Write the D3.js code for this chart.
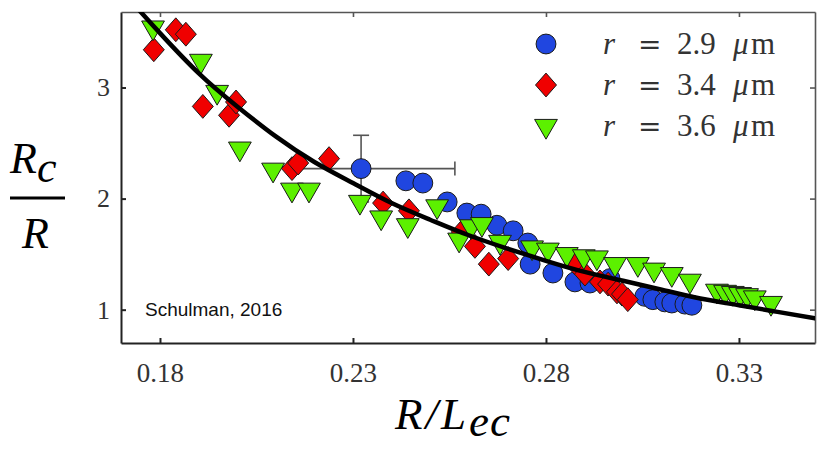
<!DOCTYPE html>
<html>
<head>
<meta charset="utf-8">
<script src="https://cdn.jsdelivr.net/npm/d3@7"></script>
<style>
  body { margin: 0; background: #fff; }
  svg { display: block; }
</style>
</head>
<body>
<div id="main"></div>
<script>
const layout = {
    width: 817,
    height: 450,
    left: 121,
    right: 815,
    top: 12,
    bottom: 343
};

// tick values
const xTicks = [0.18, 0.23, 0.28, 0.33];
const yTicks = [1, 2, 3];

// r = 2.9 um (blue circles)
const blueX = [0.2321, 0.2437, 0.2481, 0.2544, 0.2595, 0.2632, 0.2673, 0.2715, 0.2753, 0.2759,
               0.2818, 0.2875, 0.2914, 0.2966, 0.3056, 0.3077, 0.3108, 0.3126, 0.3160, 0.3178];
const blueY = [2.27, 2.16, 2.14, 1.97, 1.87, 1.86, 1.76, 1.71, 1.60, 1.41,
               1.33, 1.25, 1.24, 1.28, 1.12, 1.09, 1.07, 1.06, 1.05, 1.04];

// r = 3.4 um (red diamonds)
const redX = [0.1784, 0.1841, 0.1867, 0.1911, 0.1979, 0.1997, 0.2142, 0.2158, 0.2238, 0.2378, 0.2445,
              0.2582, 0.2616, 0.2652, 0.2702, 0.2875, 0.2901, 0.2940, 0.2961, 0.2984, 0.2997, 0.3012];
const redY = [3.34, 3.52, 3.48, 2.83, 2.75, 2.87, 2.27, 2.32, 2.36, 1.96, 1.89,
              1.70, 1.57, 1.41, 1.46, 1.42, 1.32, 1.25, 1.23, 1.16, 1.14, 1.09];

// r = 3.6 um (green triangles)
const greenX = [0.1782, 0.1906, 0.1948, 0.2007, 0.2093, 0.2142, 0.2186, 0.2318, 0.2373, 0.2442, 0.2518,
                0.2575, 0.2606, 0.2634, 0.2681, 0.2764, 0.2805, 0.2854, 0.2898, 0.2932, 0.2979, 0.3038,
                0.3080, 0.3126, 0.3173, 0.3243, 0.3264, 0.3284, 0.3303, 0.3321, 0.3341, 0.3383];
const greenY = [3.54, 3.24, 2.96, 2.45, 2.26, 2.08, 2.08, 1.97, 1.83, 1.76, 1.93,
                1.63, 1.75, 1.77, 1.61, 1.56, 1.54, 1.50, 1.48, 1.47, 1.41, 1.41,
                1.36, 1.32, 1.26, 1.17, 1.16, 1.15, 1.14, 1.13, 1.11, 1.06];

// error bar on the first blue point
const errX = [0.2163, 0.2564];
const errY = [1.97, 2.57];

// fitted curve
const curveX = [0.1745, 0.18, 0.19, 0.20, 0.21, 0.22, 0.23, 0.24, 0.25, 0.26, 0.27,
                0.28, 0.29, 0.30, 0.31, 0.32, 0.33, 0.34, 0.35];
const curveY = [3.70, 3.49, 3.13, 2.83, 2.56, 2.33, 2.14, 1.96, 1.81, 1.67, 1.55,
                1.44, 1.34, 1.26, 1.18, 1.10, 1.04, 0.98, 0.92];

const legendLabels = ["2.9", "3.4", "3.6"];
const colors = ["#2046e0", "#f00000", "#5cf000"];

const xScale = d3.scaleLinear().domain([0.1699, 0.3497]).range([layout.left, layout.right]);
const yScale = d3.scaleLinear().domain([0.70, 3.68]).range([layout.bottom, layout.top]);

const svg = d3.select("#main").append("svg")
    .attr("width", layout.width)
    .attr("height", layout.height);

// axes, ticks pointing inward
const tickFont = "'Liberation Serif', 'Times New Roman', serif";

let xAxis = svg.append("g")
    .attr("transform", `translate(0,${layout.bottom})`)
    .call(d3.axisBottom(xScale).tickValues(xTicks).tickFormat(d3.format(".2f"))
        .tickSizeInner(-5).tickSizeOuter(0).tickPadding(20));
xAxis.selectAll("text").attr("font-family", tickFont).attr("font-size", 27).attr("fill", "#333");

let yAxis = svg.append("g")
    .attr("transform", `translate(${layout.left},0)`)
    .call(d3.axisLeft(yScale).tickValues(yTicks).tickFormat(d3.format("d"))
        .tickSizeInner(-5).tickSizeOuter(0).tickPadding(11));
yAxis.selectAll("text").attr("font-family", tickFont).attr("font-size", 26).attr("fill", "#333");

let topAxis = svg.append("g")
    .attr("transform", `translate(0,${layout.top})`)
    .call(d3.axisTop(xScale).tickValues(xTicks).tickFormat("").tickSizeInner(-5).tickSizeOuter(0));

let rightAxis = svg.append("g")
    .attr("transform", `translate(${layout.right},0)`)
    .call(d3.axisRight(yScale).tickValues(yTicks).tickFormat("").tickSizeInner(-5).tickSizeOuter(0));

[xAxis, yAxis].forEach(a => a.selectAll("line, .domain").attr("stroke", "#222").attr("stroke-width", 2));
[topAxis, rightAxis].forEach(a => a.selectAll("line, .domain").attr("stroke", "#555").attr("stroke-width", 1.6));

// clip to the frame
svg.append("clipPath").attr("id", "plot-clip")
    .append("rect")
    .attr("x", layout.left).attr("y", layout.top)
    .attr("width", layout.right - layout.left).attr("height", layout.bottom - layout.top);

const plot = svg.append("g").attr("clip-path", "url(#plot-clip)");

// error bars
const ex = xScale(blueX[0]), ey = yScale(blueY[0]);
const errG = plot.append("g").attr("stroke", "#555").attr("stroke-width", 1.6);
errG.append("line").attr("x1", xScale(errX[0])).attr("x2", xScale(errX[1])).attr("y1", ey).attr("y2", ey);
errG.append("line").attr("x1", ex).attr("x2", ex).attr("y1", yScale(errY[0])).attr("y2", yScale(errY[1]));
errG.append("line").attr("x1", ex - 8).attr("x2", ex + 8).attr("y1", yScale(errY[1])).attr("y2", yScale(errY[1]));
errG.append("line").attr("x1", ex - 8).attr("x2", ex + 8).attr("y1", yScale(errY[0])).attr("y2", yScale(errY[0]));
errG.append("line").attr("x1", xScale(errX[1])).attr("x2", xScale(errX[1])).attr("y1", ey - 7).attr("y2", ey + 7);

// marker shapes
const wideDiamond = {
    draw(context, size) {
        const h = Math.sqrt(size / 0.88);
        const w = h * 0.88;
        context.moveTo(0, -h);
        context.lineTo(w, 0);
        context.lineTo(0, h);
        context.lineTo(-w, 0);
        context.closePath();
    }
};
const shapes = [
    d3.symbol().type(d3.symbolCircle).size(310)(),
    d3.symbol().type(wideDiamond).size(125)(),
    d3.symbol().type(d3.symbolTriangle).size(225)()
];
const rotations = [0, 0, 180];

const seriesX = [blueX, redX, greenX];
const seriesY = [blueY, redY, greenY];

seriesX.forEach((xs, s) => {
    plot.append("g").selectAll("path")
        .data(xs.map((x, i) => ({x: x, y: seriesY[s][i]})))
        .enter().append("path")
        .attr("d", shapes[s])
        .attr("transform", d => `translate(${xScale(d.x)},${yScale(d.y)}) rotate(${rotations[s]})`)
        .attr("fill", colors[s])
        .attr("stroke", "#1a1a1a")
        .attr("stroke-width", 1);
});

// fitted curve on top
plot.append("path")
    .datum(curveX.map((x, i) => [x, curveY[i]]))
    .attr("fill", "none")
    .attr("stroke", "#000")
    .attr("stroke-width", 4.5)
    .attr("d", d3.line().x(d => xScale(d[0])).y(d => yScale(d[1])).curve(d3.curveNatural));

// legend
const legend = svg.append("g")
    .attr("font-family", "'DejaVu Serif', 'Liberation Serif', serif")
    .attr("font-size", 28)
    .attr("fill", "#333");
legendLabels.forEach((lab, i) => {
    const ly = 44 + i * 41;
    legend.append("path")
        .attr("d", shapes[i])
        .attr("transform", `translate(546,${ly}) rotate(${rotations[i]})`)
        .attr("fill", colors[i])
        .attr("stroke", "#1a1a1a")
        .attr("stroke-width", 1);
    const by = ly + 10;
    legend.append("text").attr("x", 603).attr("y", by)
        .attr("font-family", "'Liberation Serif', serif").attr("font-style", "italic").attr("font-size", 31).text("r");
    legend.append("text").attr("x", 638).attr("y", by).text("=");
    legend.append("text").attr("x", 677).attr("y", by).attr("font-family", "'Liberation Serif', serif")
        .attr("font-size", 31).text(lab);
    legend.append("text").attr("x", 733).attr("y", by)
        .attr("font-family", "'Liberation Serif', serif").attr("font-style", "italic").attr("font-size", 31).text("\u03bc");
    legend.append("text").attr("x", 751).attr("y", by).attr("font-family", "'Liberation Serif', serif")
        .attr("font-size", 31).text("m");
});

// credit
svg.append("text")
    .attr("x", 145).attr("y", 316)
    .attr("font-family", "'Liberation Sans', Arial, sans-serif")
    .attr("font-size", 19)
    .attr("fill", "#111")
    .text("Schulman, 2016");

// y title: Rc / R
const titleFont = "'Liberation Serif', 'Times New Roman', serif";
const yTitle = svg.append("g");
const num = yTitle.append("text")
    .attr("x", 10).attr("y", 173)
    .attr("font-family", titleFont).attr("font-style", "italic")
    .attr("font-size", 44).attr("fill", "#000");
num.append("tspan").text("R");
num.append("tspan").attr("dy", 9).text("c");
yTitle.append("line")
    .attr("x1", 10).attr("x2", 65).attr("y1", 198).attr("y2", 198)
    .attr("stroke", "#000").attr("stroke-width", 3);
yTitle.append("text")
    .attr("x", 22).attr("y", 248)
    .attr("font-family", titleFont).attr("font-style", "italic")
    .attr("font-size", 44).attr("fill", "#000")
    .text("R");

// x title: R / Lec
const xTitle = svg.append("text")
    .attr("x", 395).attr("y", 429)
    .attr("font-family", titleFont).attr("font-style", "italic")
    .attr("font-size", 45).attr("fill", "#000")
    .attr("letter-spacing", 3);
xTitle.append("tspan").text("R/L");
xTitle.append("tspan").attr("dy", 7).attr("letter-spacing", 1).text("ec");
</script>
</body>
</html>
